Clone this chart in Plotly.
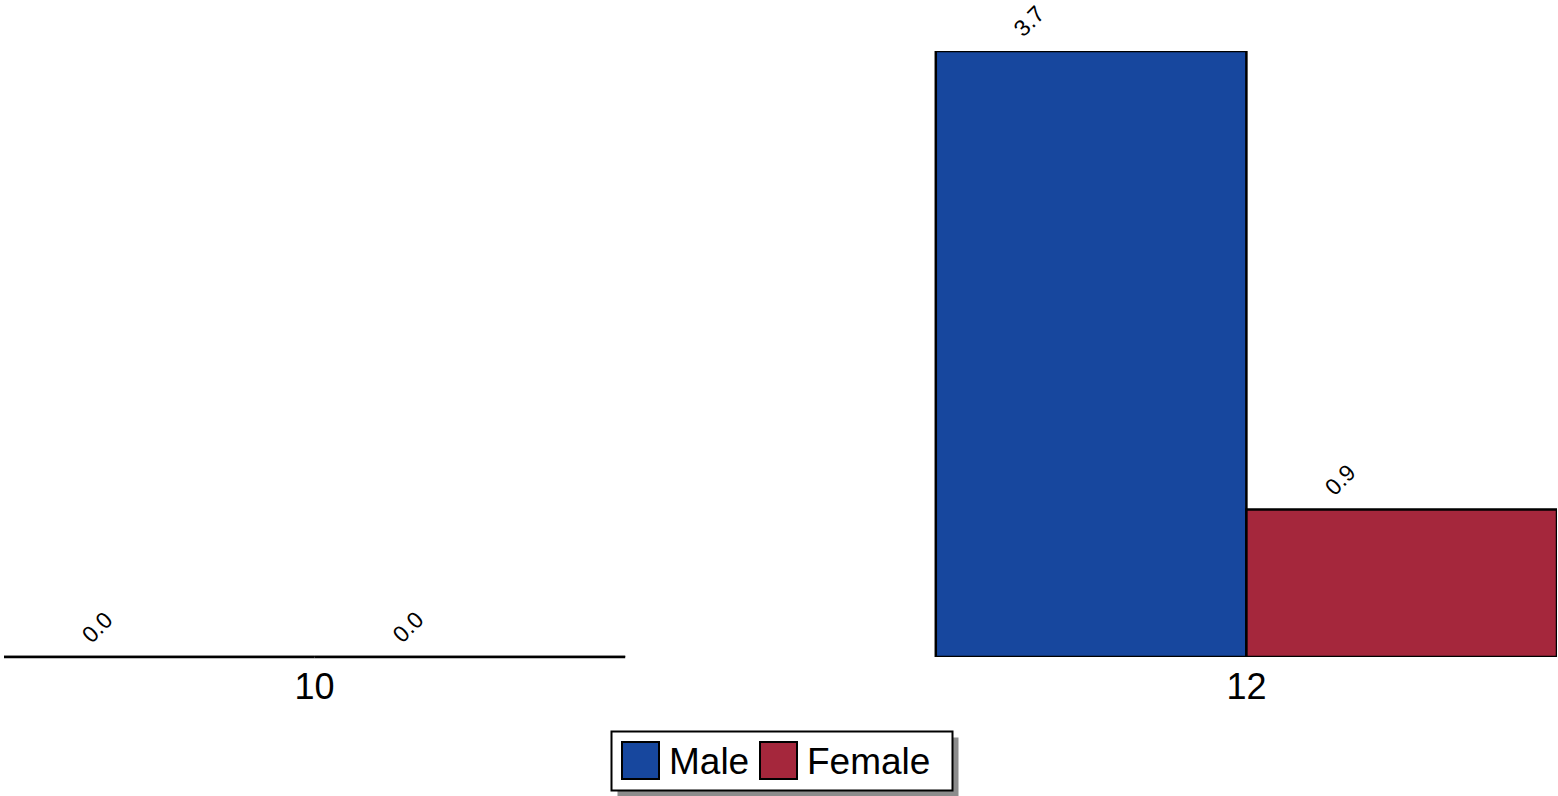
import plotly.graph_objects as go

categories = ["10", "12"]
series_names = ["Male", "Female"]
male_values = [0.0, 3.7]
female_values = [0.0, 0.9]
series_values = [male_values, female_values]
colors = ["#17479E", "#A5273C"]

W, H = 1558, 796
L, R, T, B = 4, 1, 51, 139
PW = W - L - R
PH = H - T - B

def px_x(x):
    return (x - L) / PW

def px_y(y):
    return (H - B - y) / PH

FONT = "Liberation Sans, Arial, Helvetica, sans-serif"
xpos = list(range(len(categories)))
bar_w = 1 / 3

fig = go.Figure()
for name, vals, col in zip(series_names, series_values, colors):
    fig.add_trace(go.Bar(
        x=xpos, y=vals, name=name,
        marker=dict(color=col, line=dict(color="black", width=2.5)),
        cliponaxis=False,
        showlegend=False,
    ))

shapes = []
annotations = []
nser = len(series_values)
for j, vals in enumerate(series_values):
    off = (j - (nser - 1) / 2) * bar_w
    for i, v in enumerate(vals):
        xc = xpos[i] + off
        if v == 0:
            # zero-height bar drawn as its outline along the baseline
            shapes.append(dict(type="line", xref="x", yref="paper",
                               x0=xc - bar_w / 2, x1=xc + bar_w / 2, y0=0, y1=0,
                               line=dict(color="black", width=2.5)))
        annotations.append(dict(
            x=xc, y=v, xref="x", yref="y", text=f"{v:.1f}",
            showarrow=False, textangle=-45, xshift=-62, yshift=30,
            font=dict(family=FONT, size=23, color="black"),
        ))

# custom legend with shadow
lx0, lx1, ly0, ly1 = 611.5, 952.5, 731.5, 790.5
shapes.append(dict(type="rect", xref="paper", yref="paper", layer="above",
                   x0=px_x(lx0 + 6), x1=px_x(lx1 + 6), y0=px_y(ly1 + 6), y1=px_y(ly0 + 6),
                   fillcolor="#8c8c8c", line=dict(width=0)))
shapes.append(dict(type="rect", xref="paper", yref="paper", layer="above",
                   x0=px_x(lx0), x1=px_x(lx1), y0=px_y(ly1), y1=px_y(ly0),
                   fillcolor="white", line=dict(color="black", width=2)))
sw_x = [622, 760]
text_x = [667, 805]
for name, col, sx, tx in zip(series_names, colors, sw_x, text_x):
    shapes.append(dict(type="rect", xref="paper", yref="paper", layer="above",
                       x0=px_x(sx), x1=px_x(sx + 37), y0=px_y(779), y1=px_y(742),
                       fillcolor=col, line=dict(color="black", width=2)))
    annotations.append(dict(
        x=px_x(tx), y=px_y(761), xref="paper", yref="paper", text=name,
        showarrow=False, xanchor="left", yanchor="middle",
        font=dict(family=FONT, size=37, color="black"),
    ))

fig.update_layout(
    width=W, height=H,
    margin=dict(l=L, r=R, t=T, b=B, pad=0),
    paper_bgcolor="white", plot_bgcolor="white",
    barmode="group", bargap=1 / 3, bargroupgap=0,
    showlegend=False,
    xaxis=dict(range=[-1 / 3, len(categories) - 1 + 1 / 3], tickvals=xpos, ticktext=categories,
               showgrid=False, zeroline=False, showline=False, ticks="",
               ticklabelstandoff=5,
               tickfont=dict(family=FONT, size=36, color="black")),
    yaxis=dict(range=[0, max(male_values + female_values)], visible=False,
               showgrid=False, zeroline=False),
    shapes=shapes,
    annotations=annotations,
)

fig.write_html("out.html",
               config={"displayModeBar": False},
               post_script="document.body.style.margin='0px';document.body.style.overflow='hidden';")
